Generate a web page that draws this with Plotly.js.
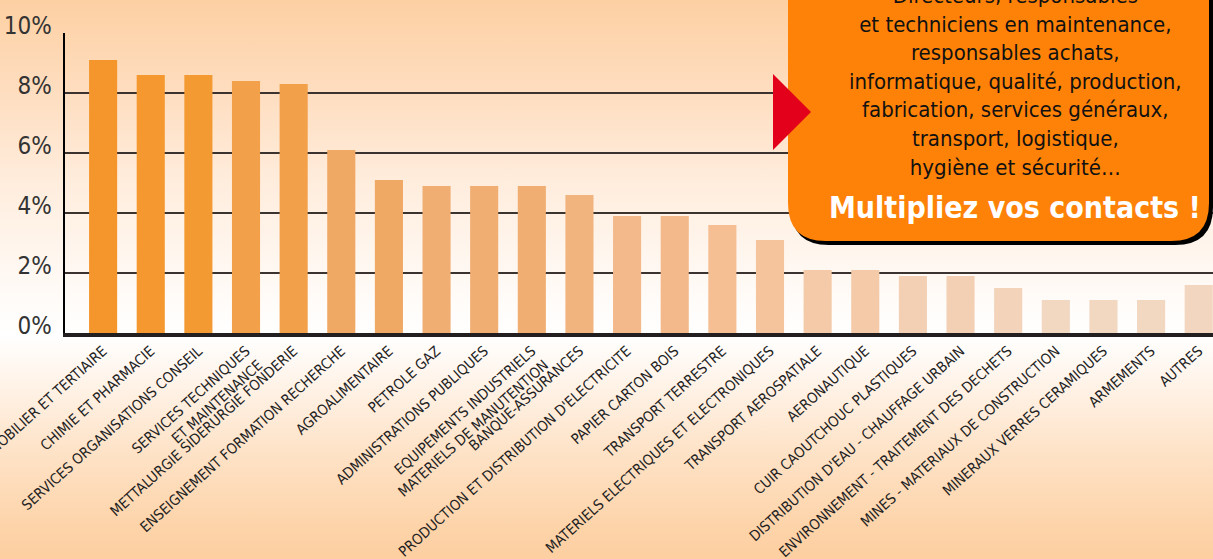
<!DOCTYPE html>
<html>
<head>
<meta charset="utf-8">
<script src="https://cdn.plot.ly/plotly-3.0.1.min.js"></script>
<style>
  html, body { margin:0; padding:0; width:1213px; height:559px; overflow:hidden;
    background: linear-gradient(to bottom, #FDD0A3 0px, #FEDDBF 90px, #FFEEDF 190px, #FFF9F4 280px, #FFFFFF 335px, #FFF4EA 380px, #FEE3C8 450px, #FDD3A8 530px, #FDCFA1 559px); }
  #chart { width:1213px; height:559px; }
</style>
</head>
<body>
<div id="chart"></div>
<script>
const categories = [
  "IMMOBILIER ET TERTIAIRE",
  "CHIMIE ET PHARMACIE",
  "SERVICES ORGANISATIONS CONSEIL",
  "SERVICES TECHNIQUES<br>ET MAINTENANCE",
  "METTALURGIE SIDERURGIE FONDERIE",
  "ENSEIGNEMENT FORMATION RECHERCHE",
  "AGROALIMENTAIRE",
  "PETROLE GAZ",
  "ADMINISTRATIONS PUBLIQUES",
  "EQUIPEMENTS INDUSTRIELS<br>MATERIELS DE MANUTENTION",
  "BANQUE-ASSURANCES",
  "PRODUCTION ET DISTRIBUTION D'ELECTRICITE",
  "PAPIER CARTON BOIS",
  "TRANSPORT TERRESTRE",
  "MATERIELS ELECTRIQUES ET ELECTRONIQUES",
  "TRANSPORT AEROSPATIALE",
  "AERONAUTIQUE",
  "CUIR CAOUTCHOUC PLASTIQUES",
  "DISTRIBUTION D'EAU - CHAUFFAGE URBAIN",
  "ENVIRONNEMENT - TRAITEMENT DES DECHETS",
  "MINES - MATERIAUX DE CONSTRUCTION",
  "MINERAUX VERRES CERAMIQUES",
  "ARMEMENTS",
  "AUTRES"
];
const values = [9.1, 8.6, 8.6, 8.4, 8.3, 6.1, 5.1, 4.9, 4.9, 4.9, 4.6, 3.9, 3.9, 3.6, 3.1, 2.1, 2.1, 1.9, 1.9, 1.5, 1.1, 1.1, 1.1, 1.6];
const yTickVals = [0, 2, 4, 6, 8, 10];
const yTickLabels = ["0%", "2%", "4%", "6%", "8%", "10%"];
const calloutLines = [
  "Directeurs, responsables",
  "et techniciens en maintenance,",
  "responsables achats,",
  "informatique, qualité, production,",
  "fabrication, services généraux,",
  "transport, logistique,",
  "hygiène et sécurité…"
];
const calloutHeadline = "Multipliez vos contacts !";

const barColors = ["#F4962C","#F4982F","#F49A33","#F2A04A","#F2A04A","#F0A865","#F0A865",
  "#F1AE72","#F1AE72","#F1AE72","#F1B47E","#F3B98A","#F3B98A","#F5BE93","#F6C49C",
  "#F4CAA8","#F4CAA8","#F3D0B4","#F3D0B4","#F3D3B9","#F2D7C1","#F2D7C1","#F2D7C1","#F2D6BF"];

const FONT = "'Liberation Sans Narrow', 'DejaVu Sans Condensed', 'Roboto Condensed', 'Arial Narrow', 'Liberation Sans', sans-serif";

// plot area geometry (pixels)
const L = 65, T = 33, W = 1148, H = 300;
const px = x => (x - L) / W;
const py = y => (T + H - y) / H;
function roundRect(x0, y0, x1, y1, r) {
  return `M ${px(x0+r)},${py(y0)} L ${px(x1-r)},${py(y0)} Q ${px(x1)},${py(y0)} ${px(x1)},${py(y0+r)} ` +
         `L ${px(x1)},${py(y1-r)} Q ${px(x1)},${py(y1)} ${px(x1-r)},${py(y1)} ` +
         `L ${px(x0+r)},${py(y1)} Q ${px(x0)},${py(y1)} ${px(x0)},${py(y1-r)} ` +
         `L ${px(x0)},${py(y0+r)} Q ${px(x0)},${py(y0)} ${px(x0+r)},${py(y0)} Z`;
}

const trace = {
  type: "bar",
  x: categories,
  y: values,
  marker: { color: barColors, line: { width: 0 } },
  hoverinfo: "x+y"
};

const layout = {
  width: 1213, height: 559,
  margin: { l: L, r: 1213 - L - W, t: T, b: 559 - T - H, pad: 0 },
  paper_bgcolor: "rgba(0,0,0,0)",
  plot_bgcolor: "rgba(0,0,0,0)",
  bargap: 0.41,
  showlegend: false,
  font: { family: FONT, color: "#222" },
  xaxis: {
    type: "category",
    range: [-0.8, 23.3],
    tickangle: -42,
    tickfont: { family: FONT, size: 14.5, color: "#222" },
    showline: true, linecolor: "#231F20", linewidth: 4,
    showgrid: false, ticks: "", automargin: false, fixedrange: true
  },
  yaxis: {
    range: [0, 10],
    tickvals: yTickVals, ticktext: yTickLabels,
    tickfont: { family: FONT, size: 24, color: "#333" },
    ticks: "", ticklen: 0, ticklabelstandoff: 6, ticklabelshift: -7,
    showline: true, linecolor: "#000", linewidth: 2.5,
    showgrid: true, gridcolor: "#3a3330", gridwidth: 1.5,
    zeroline: false, automargin: false, fixedrange: true
  },
  shapes: [
    { type: "path", xref: "paper", yref: "paper", layer: "above",
      path: roundRect(791, -60, 1213, 245, 38), fillcolor: "#000", line: { width: 0 } },
    { type: "path", xref: "paper", yref: "paper", layer: "above",
      path: roundRect(788, -60, 1209, 241, 38), fillcolor: "#FF8208", line: { width: 0 } },
    { type: "path", xref: "paper", yref: "paper", layer: "above",
      path: `M ${px(773)},${py(74)} L ${px(811)},${py(112)} L ${px(773)},${py(150)} Z`,
      fillcolor: "#E2001A", line: { width: 0 } }
  ],
  annotations: [
    { xref: "paper", yref: "paper", x: px(1015), y: py(81), xanchor: "center", yanchor: "middle",
      text: calloutLines.join("<br>"), showarrow: false, align: "center",
      font: { family: FONT, size: 22, color: "#111" } },
    { xref: "paper", yref: "paper", x: px(1015), y: py(207), xanchor: "center", yanchor: "middle",
      text: "<b>" + calloutHeadline + "</b>", showarrow: false,
      font: { family: FONT, size: 30, color: "#FFFFFF" } }
  ]
};

Plotly.newPlot("chart", [trace], layout, { displayModeBar: false, staticPlot: true });
</script>
</body>
</html>
